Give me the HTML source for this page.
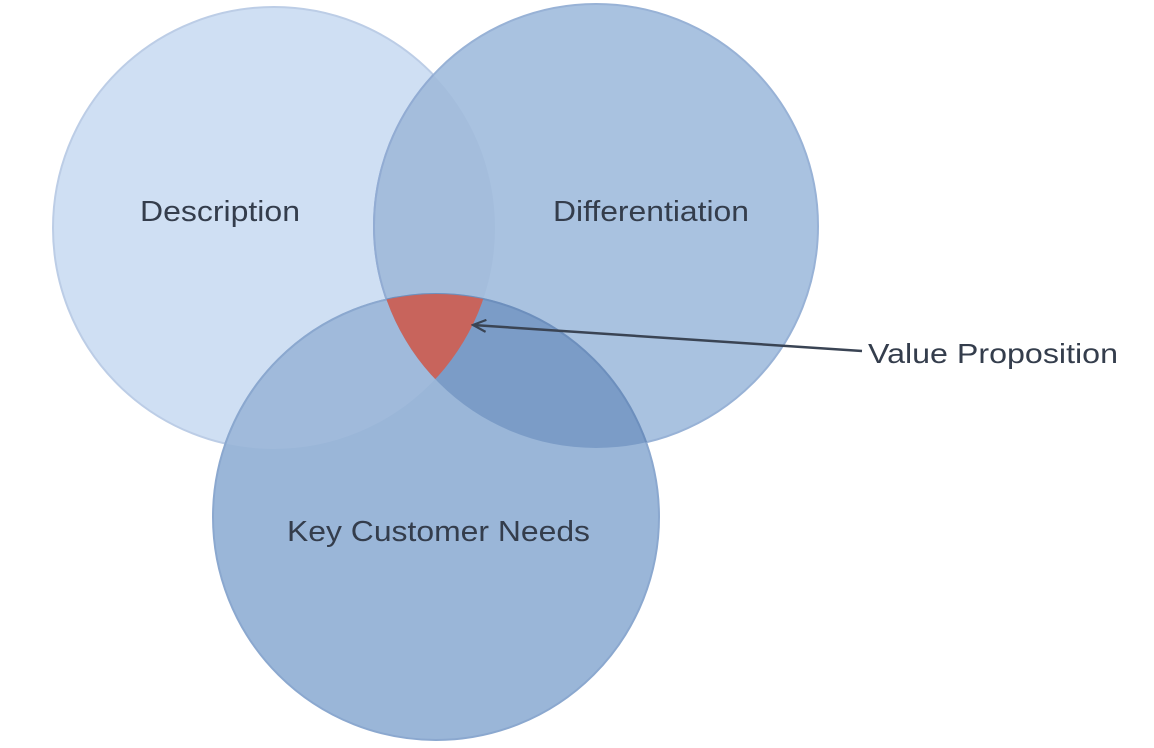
<!DOCTYPE html>
<html><head><meta charset="utf-8"><style>
html,body{margin:0;padding:0;background:#fff;}
svg{display:block;}
text{font-family:"Liberation Sans",sans-serif;fill:#343d4c;}
</style></head><body>
<svg width="1154" height="748" viewBox="0 0 1154 748" xmlns="http://www.w3.org/2000/svg">
<defs>
<clipPath id="c1"><circle cx="274" cy="228" r="221"/></clipPath>
<clipPath id="c2"><circle cx="596" cy="226" r="222"/></clipPath>
<clipPath id="c3"><circle cx="436" cy="517" r="223"/></clipPath>
<marker id="ah" markerWidth="16" markerHeight="14" refX="14" refY="7" orient="auto" markerUnits="userSpaceOnUse">
<path d="M1,1 L14,7 L1,13" fill="none" stroke="#3a4454" stroke-width="2.2"/>
</marker>
</defs>
<circle cx="274" cy="228" r="221" fill="#cfdff3" stroke="#bccde6" stroke-width="2"/>
<circle cx="596" cy="226" r="222" fill="#a9c2e0" stroke="#98b2d6" stroke-width="2"/>
<circle cx="436" cy="517" r="223" fill="#9ab6d8" stroke="#8ba8cf" stroke-width="2"/>
<g clip-path="url(#c1)"><circle cx="596" cy="226" r="222" fill="#a4bddc" stroke="#92acd3" stroke-width="2"/></g>
<g clip-path="url(#c1)"><circle cx="436" cy="517" r="223" fill="#a0badb" stroke="#8ba8cf" stroke-width="2"/></g>
<g clip-path="url(#c2)"><circle cx="436" cy="517" r="223" fill="#7b9cc7" stroke="#6d8fbd" stroke-width="2"/></g>
<g clip-path="url(#c1)"><g clip-path="url(#c2)"><circle cx="436" cy="517" r="223" fill="#c8645c"/></g></g>
<text x="140" y="221" font-size="29" textLength="160" lengthAdjust="spacingAndGlyphs">Description</text>
<text x="553" y="221" font-size="29" textLength="196" lengthAdjust="spacingAndGlyphs">Differentiation</text>
<text x="287" y="541" font-size="29" textLength="303" lengthAdjust="spacingAndGlyphs">Key Customer Needs</text>
<line x1="862" y1="351" x2="473" y2="325" stroke="#3a4454" stroke-width="2.5" marker-end="url(#ah)"/>
<text x="868" y="363" font-size="28" textLength="250" lengthAdjust="spacingAndGlyphs">Value Proposition</text>
</svg>
</body></html>
